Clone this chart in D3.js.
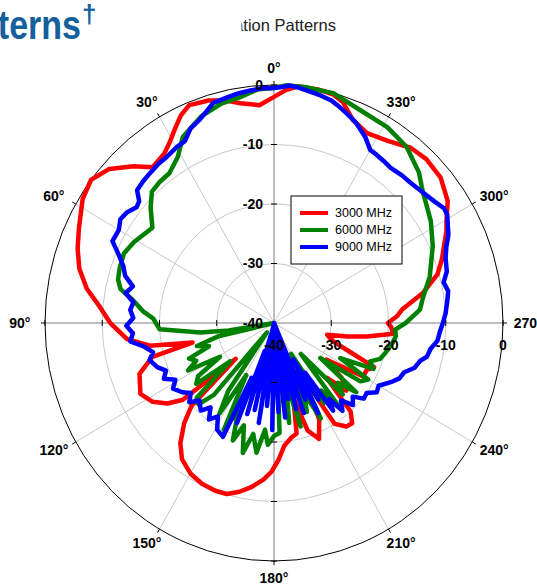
<!DOCTYPE html>
<html>
<head>
<meta charset="utf-8">
<script src="https://cdn.jsdelivr.net/npm/d3@7"></script>
<style>
body { margin: 0; background: #fff; }
svg { display: block; font-family: Arial, "Liberation Sans", sans-serif; }
</style>
</head>
<body>
<svg id="chart" width="537" height="588"></svg>
<script>
// angle (deg, counter-clockwise from top), gain (dB)
var red3000 = [
	[0,-2],[4,-3.3],[9,-2.6],[13,-1.6],[17,-0.9],[22,-0.5],[25,-1.5],[28,-3.1],[31,-4.6],[34,-5.7],
	[39,-6.3],[43,-4],[48,-1.3],[53,0],[58,-0.6],[65,-2.4],[70,-3.5],[75,-4.8],[80,-6.8],[85,-9.5],
	[90,-11.4],[96,-14.2],[100,-18],[103,-25.4],[105,-18],[110,-15],[117,-13.8],[122,-15],[126,-17],[129,-19.5],
	[132,-31],[134,-20],[137,-17],[141,-14],[145,-12],[150,-10.8],[155,-10.2],[160,-10],[164,-10.1],[168,-11],
	[172,-12.2],[176,-13.6],[179,-15],[182,-17],[185,-19.3],[189,-20.5],[192,-21],[195,-27],[198,-21],[202,-19],
	[206,-22],[209,-30],[212,-20],[216,-18.5],[219,-18.3],[222,-20],[225,-27],[228,-23],[232,-25],[236,-29],
	[240,-22],[244,-22],[247,-21],[250,-26],[253,-29],[256,-30],[258,-30.5],[260,-27],[262,-23.6],[265,-19.1],
	[268,-19.5],[270,-20.1],[273,-18.5],[276,-17.4],[281,-13.5],[286,-10.3],[290,-8.8],[293,-7.8],[297,-6.2],[300,-5.2],
	[304,-3.4],[310,-2],[316,-1.7],[321,-2.1],[327,-3.5],[333,-4.2],[338,-3.2],[342,-1],[345,-0.2],[349,0],
	[354,0],[357,-0.8],[360,-2]
];
var green6000 = [
	[0,-0.5],[4,-0.6],[9,-1.6],[14,-2],[20,-3],[27,-4.9],[31,-7.4],[36,-8.9],[40,-9],[44,-9.3],
	[48,-11],[53,-13.4],[57,-12.8],[61,-12],[66,-11.3],[71,-11.5],[75,-11.8],[78,-12.6],[81,-15],[85,-17],
	[88,-18.9],[93,-20],[97,-27],[99,-32],[101,-40],[103,-30],[106,-26],[109,-28],[112,-24],[115,-25],
	[118,-23],[121,-29],[124,-24],[127,-23],[130,-30],[133,-21.5],[136,-21],[139,-24],[142,-38],[145,-26],
	[148,-22],[151,-30],[154,-20],[157,-24],[160,-19],[163,-22],[166,-17.5],[169,-21],[172,-18],[175,-22],
	[177,-19.5],[180,-21],[183,-21.5],[186,-35],[189,-23],[192,-30],[195,-22],[198,-40],[201,-24],[204,-27],
	[207,-22],[210,-34],[213,-24],[216,-26],[219,-22],[222,-33],[225,-23],[228,-25],[231,-21.5],[234,-30],
	[237,-22],[240,-21],[243,-27],[246,-21],[249,-22],[252,-20.5],[255,-20],[258,-19.5],[261,-19],[264,-18.6],
	[267,-18.8],[270,-17],[275,-14.4],[279,-13.7],[286,-11.7],[295,-9.4],[302,-7.7],[311,-5.7],[315,-4.2],[322,-2.4],
	[329,-1.6],[337,-1.2],[345,0],[352,0],[357,0],[360,-0.5]
];
var blue9000 = [
	[0,-0.5],[3,-0.5],[6,-0.7],[9,-0.9],[12,-1.2],[16,-1.5],[18,-2.4],[21,-3.5],[24,-4.2],[27,-5.7],
	[30,-5.9],[34,-6.4],[37,-6.5],[41,-6.8],[44,-7],[47,-7.3],[49,-8.8],[51,-9.1],[54,-8.3],[57,-8],
	[60,-8.7],[64,-8.6],[67,-10.5],[70,-12],[73,-12.8],[76,-14.6],[79,-13.6],[82,-15.2],[85,-14.8],[88,-15.4],
	[91,-14.2],[94,-15.3],[97,-14.7],[100,-17],[103,-18.3],[106,-17.4],[110,-18.3],[113,-19.5],[116,-18.6],[119,-20.3],
	[122,-19.2],[126,-20.2],[129,-21.3],[132,-20.1],[135,-21.6],[139,-20.5],[142,-22],[145,-20.2],[148,-21.5],[151,-19.5],
	[155,-18.9],[157,-30],[159,-22],[161,-35],[163,-24],[165,-38],[167,-25],[169,-40],[171,-23],[173,-36],
	[175,-26],[177,-40],[179,-22],[181,-37],[183,-25],[185,-40],[187,-24],[189,-33],[191,-27],[193,-38],
	[195,-25],[197,-34],[199,-24],[201,-40],[203,-26],[205,-31],[207,-23],[209,-33],[211,-25],[213,-30],
	[215,-22],[217,-24],[219,-21],[222,-22.5],[225,-20.5],[228,-21.5],[231,-19.8],[234,-20],[237,-18.6],[240,-18.9],
	[244,-17.3],[247,-16.2],[250,-15.8],[253,-14.3],[256,-13.7],[258,-12.7],[261,-12.3],[264,-11.3],[267,-11],[270,-10.5],
	[273,-10],[277,-9.5],[280,-9.1],[283,-9.6],[286,-8.6],[290,-8.1],[293,-7.3],[296,-6.1],[298,-5.6],[301,-4.7],
	[303,-4.6],[306,-5.3],[309,-5.8],[312,-6.2],[315,-6.5],[318,-6.6],[322,-6.9],[325,-6.7],[328,-6.5],[330,-6.4],
	[333,-4.9],[337,-3.4],[340,-2.6],[343,-1.8],[345,-1.3],[348,-0.9],[351,-0.6],[354,-0.2],[356,0],[358,-0.3],[360,-0.5]
];
var seriesNames = ["3000 MHz", "6000 MHz", "9000 MHz"];
var seriesColors = ["#ff0000", "#008000", "#0000ff"];
var ringTicks = [-40, -30, -20, -10, 0];
var angleTicks = [0, 30, 60, 90, 120, 150, 180, 210, 240, 270, 300, 330];

var cx = 274, cy = 323, R = 229, yStretch = 238 / 229;
var svg = d3.select("#chart");
var r = d3.scaleLinear().domain([-40, 0]).range([0, R]).clamp(true);
var rad = function(a) { return a * Math.PI / 180; };
// screen position of (angle, dB) - y axis is a little taller than x in the picture
var px = function(a, v) { return cx - r(v) * Math.sin(rad(a)); };
var py = function(a, v) { return cy - r(v) * yStretch * Math.cos(rad(a)); };

// heading pieces (cut off by the page edge)
svg.append("text").attr("transform", "translate(81,39) scale(1,1.2)").attr("text-anchor", "end")
	.attr("font-size", 34).attr("font-weight", "bold").attr("fill", "#14609c").text("Patterns");
svg.append("text").attr("x", 82).attr("y", 23)
	.attr("font-size", 26).attr("font-weight", "bold").attr("fill", "#14609c").text("†");

svg.append("clipPath").attr("id", "titleclip").append("rect")
	.attr("x", 241.5).attr("y", 0).attr("width", 200).attr("height", 50);
svg.append("text").attr("clip-path", "url(#titleclip)")
	.attr("x", 336).attr("y", 31).attr("text-anchor", "end")
	.attr("font-size", 16.5).attr("fill", "#222").text("Radiation Patterns");

var plot = svg.append("g").attr("transform", "translate(" + cx + "," + cy + ") scale(1," + yStretch + ")");

// rings
plot.selectAll(".ring").data(ringTicks.filter(function(d) { return d > -40 && d < 0; }))
	.enter().append("circle")
	.attr("r", function(d) { return r(d); })
	.attr("fill", "none").attr("stroke", "#c8c8c8").attr("stroke-width", 1)
	.attr("vector-effect", "non-scaling-stroke");

// spokes
plot.selectAll(".spoke").data(angleTicks).enter().append("line")
	.attr("x1", 0).attr("y1", 0)
	.attr("x2", function(d) { return -r(0) * Math.sin(rad(d)); })
	.attr("y2", function(d) { return -r(0) * Math.cos(rad(d)); })
	.attr("stroke", function(d) { return d % 90 == 0 ? "#a8a8a8" : "#c8c8c8"; })
	.attr("stroke-width", function(d) { return d % 90 == 0 ? 1.5 : 1; })
	.attr("vector-effect", "non-scaling-stroke");

plot.append("circle").attr("r", r(0))
	.attr("fill", "none").attr("stroke", "#000").attr("stroke-width", 1)
	.attr("vector-effect", "non-scaling-stroke");

// outer ticks
svg.selectAll(".otick").data(angleTicks).enter().append("line")
	.attr("x1", function(d) { return cx - R * Math.sin(rad(d)); })
	.attr("y1", function(d) { return cy - R * yStretch * Math.cos(rad(d)); })
	.attr("x2", function(d) { return cx - (R + 4) * Math.sin(rad(d)); })
	.attr("y2", function(d) { return cy - (R + 4) * yStretch * Math.cos(rad(d)); })
	.attr("stroke", "#000").attr("stroke-width", 1);

// axis ticks along the cross lines
ringTicks.filter(function(d) { return d > -40; }).forEach(function(v) {
	[0, 180].forEach(function(a) {
		svg.append("line").attr("x1", cx - 3).attr("x2", cx + 3)
			.attr("y1", py(a, v)).attr("y2", py(a, v)).attr("stroke", "#000");
	});
	[90, 270].forEach(function(a) {
		svg.append("line").attr("y1", cy - 3).attr("y2", cy + 3)
			.attr("x1", px(a, v)).attr("x2", px(a, v)).attr("stroke", "#000");
	});
});

// radial labels
svg.selectAll(".vlab").data(ringTicks).enter().append("text")
	.attr("x", cx - 11).attr("y", function(d) { return py(0, d); })
	.attr("dy", "0.35em").attr("text-anchor", "end")
	.attr("font-size", 14).attr("font-weight", "bold").text(function(d) { return d; });
svg.selectAll(".hlab").data(ringTicks).enter().append("text")
	.attr("x", function(d) { return px(270, d); }).attr("y", cy + 27)
	.attr("text-anchor", "middle")
	.attr("font-size", 14).attr("font-weight", "bold").text(function(d) { return d; });

// angle labels
svg.selectAll(".alab").data(angleTicks).enter().append("text")
	.attr("x", function(d) { return cx - (R * 1.11) * Math.sin(rad(d)); })
	.attr("y", function(d) { return cy - (R * 1.07) * yStretch * Math.cos(rad(d)); })
	.attr("dy", "0.35em").attr("text-anchor", "middle")
	.attr("font-size", 14).attr("font-weight", "bold").text(function(d) { return d + "°"; });

// patterns
var line = d3.lineRadial()
	.angle(function(d) { return -rad(d[0]); })
	.radius(function(d) { return r(d[1]); });

[red3000, green6000, blue9000].forEach(function(s, i) {
	plot.append("path").attr("d", line(s))
		.attr("fill", "none").attr("stroke", seriesColors[i]).attr("stroke-width", 4.5)
		.attr("stroke-linejoin", "round").attr("vector-effect", "non-scaling-stroke");
});

// legend
var lg = svg.append("g").attr("transform", "translate(291,196)");
lg.append("rect").attr("width", 111).attr("height", 68)
	.attr("fill", "#fff").attr("stroke", "#000").attr("stroke-width", 1);
seriesNames.forEach(function(n, i) {
	lg.append("line").attr("x1", 9).attr("x2", 37)
		.attr("y1", 17 + i * 17).attr("y2", 17 + i * 17)
		.attr("stroke", seriesColors[i]).attr("stroke-width", 4);
	lg.append("text").attr("x", 44).attr("y", 21 + i * 17)
		.attr("font-size", 12.5).text(n);
});
</script>
</body>
</html>
